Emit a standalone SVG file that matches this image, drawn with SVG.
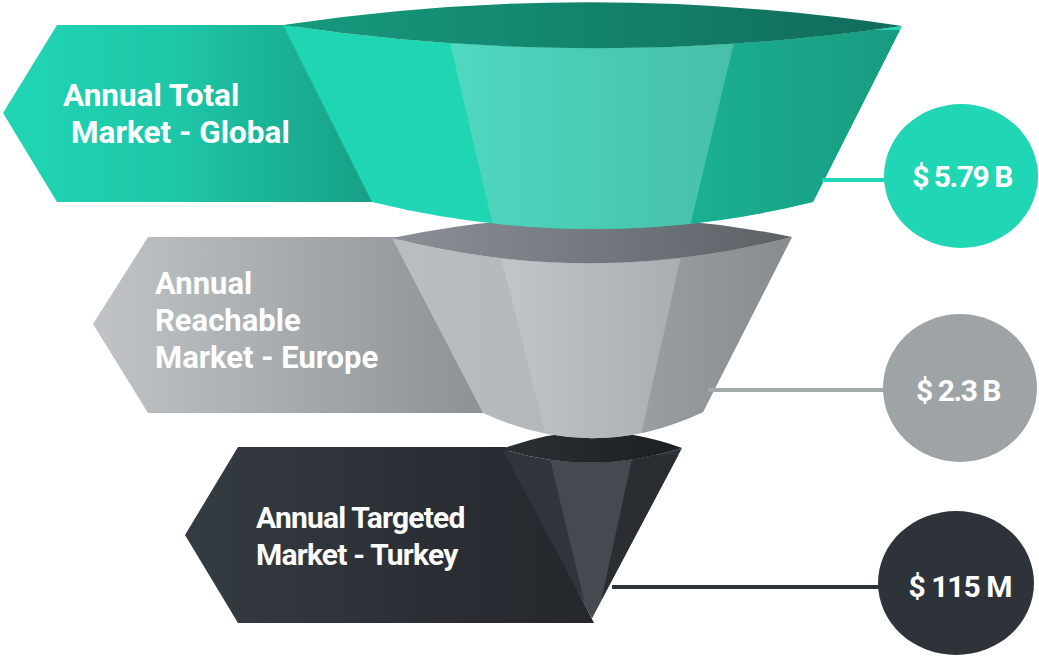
<svg xmlns="http://www.w3.org/2000/svg" width="1039" height="659" viewBox="0 0 1039 659">
<defs>
<style>
.lbl{font-family:Roboto,"Liberation Sans",sans-serif;font-weight:700;fill:#fff}
.val{font-family:Roboto,"Liberation Sans",sans-serif;font-weight:700;fill:#fff;text-anchor:middle}
.conn{stroke-width:4;fill:none}
</style>
<linearGradient id="tLab" x1="0" y1="0" x2="1" y2="0"><stop offset="0" stop-color="#20d6b4"/><stop offset="0.45" stop-color="#1ec7a8"/><stop offset="1" stop-color="#179e84"/></linearGradient>
<linearGradient id="tRim" x1="0" y1="0" x2="1" y2="0"><stop offset="0" stop-color="#169a7f"/><stop offset="1" stop-color="#106b5a"/></linearGradient>
<linearGradient id="tMid" x1="0" y1="0" x2="1" y2="0"><stop offset="0" stop-color="#4fd8c0"/><stop offset="1" stop-color="#47bfa9"/></linearGradient>
<linearGradient id="tRight" x1="0" y1="0" x2="1" y2="0"><stop offset="0" stop-color="#1bb092"/><stop offset="1" stop-color="#189a80"/></linearGradient>
<linearGradient id="gLab" x1="0" y1="0" x2="1" y2="0"><stop offset="0" stop-color="#c0c4c6"/><stop offset="1" stop-color="#8c9196"/></linearGradient>
<linearGradient id="gRim" x1="0" y1="0" x2="1" y2="0"><stop offset="0" stop-color="#8a9096"/><stop offset="1" stop-color="#5c6166"/></linearGradient>
<linearGradient id="gLeft" x1="0" y1="0" x2="1" y2="0"><stop offset="0" stop-color="#babec1"/><stop offset="1" stop-color="#a9aeb2"/></linearGradient>
<linearGradient id="gMid" x1="0" y1="0" x2="1" y2="0"><stop offset="0" stop-color="#c3c7ca"/><stop offset="1" stop-color="#a8adb2"/></linearGradient>
<linearGradient id="gRight" x1="0" y1="0" x2="1" y2="0"><stop offset="0" stop-color="#9a9fa4"/><stop offset="1" stop-color="#868b90"/></linearGradient>
<linearGradient id="dLab" x1="0" y1="0" x2="1" y2="0"><stop offset="0" stop-color="#353b42"/><stop offset="1" stop-color="#24272c"/></linearGradient>
<linearGradient id="dRim" x1="0" y1="0" x2="1" y2="0"><stop offset="0" stop-color="#2c3035"/><stop offset="1" stop-color="#1b1e22"/></linearGradient>
<clipPath id="tClip"><path d="M283,25 Q592,71 902,26 L813,202 Q592,256 372,202 Z"/></clipPath>
<clipPath id="gClip"><path d="M392,238 Q592,289 792,237 L703,412 Q593,464 483,413 Z"/></clipPath>
<clipPath id="dClip"><path d="M502,449 Q592,477 682,448 L592,618 Z"/></clipPath>
</defs>

<g id="node-turkey">
<path d="M185,535 L238,447 L506,447 L594,623 L238,623 Z" fill="url(#dLab)"/>
<path d="M502,449 Q592,477 682,448 L592,618 Z" fill="#30353b"/>
<g clip-path="url(#dClip)">
<polygon points="549,455 633,455 596,625 590,625" fill="#454a51"/>
<polygon points="633,455 700,455 700,625 596,625" fill="#2a2e33"/>
</g>
<path d="M502,449 Q592,415 682,448 Q592,477 502,449 Z" fill="url(#dRim)"/>
<text class="lbl" font-size="30" letter-spacing="-0.8"><tspan x="256" y="528">Annual Targeted</tspan><tspan x="256" y="565">Market - Turkey</tspan></text>
</g>

<g id="node-europe">
<path d="M93,324 L148,237 L398,237 L487,413 L148,413 Z" fill="url(#gLab)"/>
<path d="M392,238 Q592,289 792,237 L703,412 Q593,464 483,413 Z" fill="url(#gLeft)"/>
<g clip-path="url(#gClip)">
<polygon points="494,230 687,230 633,470 555,470" fill="url(#gMid)"/>
<polygon points="687,230 800,230 800,470 633,470" fill="url(#gRight)"/>
</g>
<path d="M392,238 Q592,196 792,237 Q592,289 392,238 Z" fill="url(#gRim)"/>
<text class="lbl" font-size="31"><tspan x="155" y="294">Annual</tspan><tspan x="155" y="331">Reachable</tspan><tspan x="155" y="368">Market - Europe</tspan></text>
</g>

<g id="node-global">
<path d="M3,113 L57,25 L295,25 L379,202 L57,202 Z" fill="url(#tLab)"/>
<path d="M283,25 Q592,71 902,26 L813,202 Q592,256 372,202 Z" fill="#1fd5b3"/>
<g clip-path="url(#tClip)">
<polygon points="447,30 737,30 682,260 501,260" fill="url(#tMid)"/>
<polygon points="737,30 910,30 910,260 682,260" fill="url(#tRight)"/>
</g>
<path d="M283,25 Q592,-21 902,26 Q592,71 283,25 Z" fill="url(#tRim)"/>
<text class="lbl" font-size="31.5"><tspan x="63" y="106">Annual Total</tspan><tspan x="71" y="143">Market - Global</tspan></text>
</g>

<g id="connectors">
<line class="conn" x1="822" y1="180" x2="888" y2="180" stroke="#21d6b5"/>
<line class="conn" x1="708" y1="390" x2="886" y2="390" stroke="#a3a9aa"/>
<line class="conn" x1="612" y1="587" x2="880" y2="587" stroke="#2e333a"/>
</g>

<g id="value-global">
<ellipse cx="961" cy="176" rx="77" ry="72" fill="#21d6b5"/>
<text class="val" x="962" y="187" font-size="30" letter-spacing="-1.5">$ 5.79 B</text>
</g>
<g id="value-europe">
<ellipse cx="960" cy="388" rx="77" ry="74" fill="#9ea4a6"/>
<text class="val" x="958" y="401" font-size="30" letter-spacing="-1.5">$ 2.3 B</text>
</g>
<g id="value-turkey">
<ellipse cx="956" cy="583" rx="78" ry="72" fill="#2e333a"/>
<text class="val" x="960" y="597" font-size="30" letter-spacing="-1">$ 115 M</text>
</g>
</svg>
